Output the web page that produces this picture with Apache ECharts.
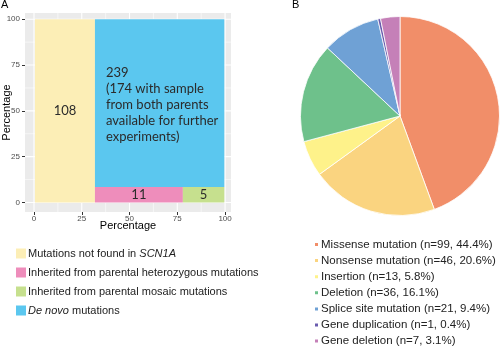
<!DOCTYPE html>
<html><head><meta charset="utf-8">
<script src="https://cdn.jsdelivr.net/npm/echarts@6/dist/echarts.min.js"></script>
<style>html,body{margin:0;padding:0;background:#fff}#c{width:500px;height:349px}</style>
</head><body><div id="c"></div>
<script>
// ---- Panel A data (mosaic) ----
const mosaicNames = ['Mutations not found in SCN1A', 'Inherited from parental heterozygous mutations', 'Inherited from parental mosaic mutations', 'De novo mutations'];
const mosaicCounts = [108, 11, 5, 239];
const mosaicX0 = [0.5, 31.9, 77.9, 31.9];
const mosaicX1 = [31.9, 77.9, 99.6, 99.6];
const mosaicY0 = [0, 0, 0, 8.4];
const mosaicY1 = [100, 8.4, 8.4, 100];
const deNovoWithParents = 174;
const majorTicks = [0, 25, 50, 75, 100];
const minorTicks = [12.5, 37.5, 62.5, 87.5];
const axisTitle = 'Percentage';

// ---- Panel B data (pie) ----
const pieNames = ['Missense mutation', 'Nonsense mutation', 'Insertion', 'Deletion', 'Splice site mutation', 'Gene duplication', 'Gene deletion'];
const pieCounts = [99, 46, 13, 36, 21, 1, 7];
const piePercents = ['44.4', '20.6', '5.8', '16.1', '9.4', '0.4', '3.1'];

const mosaicColors = ['#FCEEB6', '#EE8DBB', '#C6E08E', '#5BC7EF'];
const pieColors = ['#F18E69', '#FAD480', '#FEF28A', '#6EC18B', '#6FA1D5', '#6A5CAE', '#C580B8'];

const chart = echarts.init(document.getElementById('c'), null, {renderer: 'canvas'});

function mosaicLabel(i) {
  if (i === 3) return mosaicCounts[i] + '\n(' + deNovoWithParents + ' with sample\nfrom both parents\navailable for further\nexperiments)';
  return String(mosaicCounts[i]);
}

function makeRenderer(i) {
  return function (params, api) {
    const tl = api.coord([api.value(0), api.value(3)]);
    const br = api.coord([api.value(2), api.value(1)]);
    const w = br[0] - tl[0], h = br[1] - tl[1];
    const left = (i === 3);
    return {
      type: 'group',
      children: [
        {type: 'rect', shape: {x: tl[0], y: tl[1], width: w, height: h}, style: {fill: mosaicColors[i]}},
        {type: 'text', style: {
          text: mosaicLabel(i),
          x: left ? tl[0] + 11 : tl[0] + w / 2,
          y: tl[1] + h / 2 + (left ? 1.5 : 0),
          align: left ? 'left' : 'center',
          verticalAlign: 'middle',
          fontFamily: 'Lato', fontSize: 13, lineHeight: 16, fill: '#2b2b2b'
        }}
      ]
    };
  };
}

const gridSeries = {
  type: 'custom', coordinateSystem: 'cartesian2d', silent: true, z: 1,
  data: majorTicks.map(v => [v, 1]).concat(minorTicks.map(v => [v, 0])),
  renderItem: function (params, api) {
    const cs = params.coordSys;
    const v = api.value(0), major = api.value(1) === 1;
    const px = api.coord([v, 0])[0];
    const py = api.coord([0, v])[1];
    const lw = major ? 1.1 : 0.55;
    return {type: 'group', children: [
      {type: 'line', shape: {x1: px, y1: cs.y, x2: px, y2: cs.y + cs.height}, style: {stroke: '#fff', lineWidth: lw}},
      {type: 'line', shape: {x1: cs.x, y1: py, x2: cs.x + cs.width, y2: py}, style: {stroke: '#fff', lineWidth: lw}}
    ]};
  }
};

const mosaicSeries = mosaicNames.map((name, i) => ({
  type: 'custom', name: name, coordinateSystem: 'cartesian2d', z: 2,
  itemStyle: {color: mosaicColors[i]},
  encode: {x: [0, 2], y: [1, 3]},
  data: [[mosaicX0[i], mosaicY0[i], mosaicX1[i], mosaicY1[i]]],
  renderItem: makeRenderer(i)
}));

const tickLabel = {fontFamily: 'Liberation Sans', fontSize: 8, color: '#4D4D4D'};
const nameStyle = {fontFamily: 'Liberation Sans', fontSize: 11, color: '#000'};

const option = {
  animation: false,
  backgroundColor: '#fff',
  title: [
    {text: 'A', left: 1, top: -1, padding: 0, textStyle: {fontFamily: 'Liberation Sans', fontSize: 11, fontWeight: 'normal', color: '#000'}},
    {text: 'B', left: 292, top: -1, padding: 0, textStyle: {fontFamily: 'Liberation Sans', fontSize: 11, fontWeight: 'normal', color: '#000'}}
  ],
  grid: {left: 25, top: 13, width: 206, height: 199, show: true, backgroundColor: '#EBEBEB', borderWidth: 0, containLabel: false, outerBoundsMode: 'none'},
  xAxis: {
    type: 'value', min: -4.7, max: 103.1,
    axisLine: {show: false, onZero: false},
    axisTick: {show: true, length: 3, customValues: majorTicks, lineStyle: {color: '#333', width: 1}},
    axisLabel: Object.assign({customValues: majorTicks, margin: 3}, tickLabel),
    splitLine: {show: false},
    name: axisTitle, nameLocation: 'middle', nameGap: 8, nameMoveOverlap: false, nameTextStyle: nameStyle
  },
  yAxis: {
    type: 'value', min: -5.2, max: 103.4,
    axisLine: {show: false, onZero: false},
    axisTick: {show: true, length: 3, customValues: majorTicks, lineStyle: {color: '#333', width: 1}},
    axisLabel: Object.assign({customValues: majorTicks, margin: 5}, tickLabel),
    splitLine: {show: false},
    name: axisTitle, nameLocation: 'middle', nameGap: 13, nameMoveOverlap: false, nameTextStyle: nameStyle
  },
  legend: [
    {
      orient: 'vertical', left: 16, top: 248, padding: 0, icon: 'rect', itemWidth: 10, itemHeight: 10, itemGap: 8,
      data: mosaicNames,
      formatter: function (name) {
        if (name === mosaicNames[0]) return '{n|Mutations not found in }{i|SCN1A}';
        if (name === mosaicNames[3]) return '{i|De novo}{n| mutations}';
        return '{n|' + name + '}';
      },
      textStyle: {
        padding: [0, 0, 0, -3],
        rich: {
          n: {fontFamily: 'Liberation Sans', fontSize: 11, color: '#222'},
          i: {fontFamily: 'Liberation Sans', fontSize: 11, color: '#222', fontStyle: 'italic'}
        }
      }
    },
    {
      orient: 'vertical', left: 313, top: 238.5, height: 200, width: 190, padding: 0, icon: 'rect', itemWidth: 5, itemHeight: 5, itemGap: 4.1,
      data: pieNames,
      formatter: function (name) {
        const i = pieNames.indexOf(name);
        return name + ' (n=' + pieCounts[i] + ', ' + piePercents[i] + '%)';
      },
      textStyle: {fontFamily: 'Liberation Sans', fontSize: 11.5, color: '#222', lineHeight: 11.5, padding: [0, 0, 0, -3]}
    }
  ],
  series: [gridSeries].concat(mosaicSeries).concat([{
    type: 'pie', center: [400, 116], radius: 99.5, startAngle: 90, clockwise: true,
    label: {show: false}, labelLine: {show: false},
    itemStyle: {borderColor: '#fff', borderWidth: 0.8},
    emphasis: {disabled: true},
    data: pieNames.map((n, i) => ({name: n, value: pieCounts[i], itemStyle: {color: pieColors[i]}}))
  }])
};
chart.setOption(option);
</script>
</body></html>
